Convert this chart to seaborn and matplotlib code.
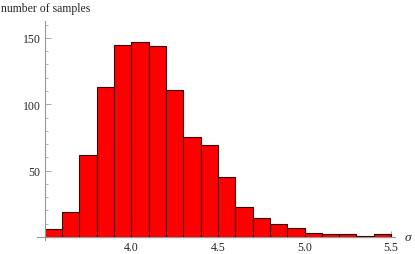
# histogram of sigma samples, Mathematica-like style
import numpy as np
import matplotlib.pyplot as plt
import seaborn as sns
from matplotlib.ticker import MultipleLocator

bin_edges = [3.5, 3.6, 3.7, 3.8, 3.9, 4.0, 4.1, 4.2, 4.3, 4.4, 4.5,
             4.6, 4.7, 4.8, 4.9, 5.0, 5.1, 5.2, 5.3, 5.4, 5.5]
counts = [6, 19, 62, 113, 145, 147, 144, 111, 75, 69,
          45, 23, 14, 10, 7, 3, 2, 2, 1, 2]
x_ticks = [4.0, 4.5, 5.0, 5.5]
y_ticks = [50, 100, 150]

centers = [(a + b) / 2 for a, b in zip(bin_edges[:-1], bin_edges[1:])]

sns.set_style("white")
plt.rcParams['font.family'] = ['Liberation Serif', 'DejaVu Serif']

fig = plt.figure(figsize=(4.15, 2.55), dpi=100)
ax = fig.add_axes([0.090, 0.053, 0.862, 0.861])

sns.histplot(x=centers, weights=counts, bins=bin_edges, ax=ax,
             color='#ff0000', alpha=1.0, edgecolor='#3a0000', linewidth=0.8)

ax.set_xlim(3.457, 5.523)
ax.set_ylim(-2.6, 162.8)

for s in ['top', 'right']:
    ax.spines[s].set_visible(False)
ax.spines['left'].set_position(('data', 3.5))
ax.spines['bottom'].set_position(('data', 0))
for s in ['left', 'bottom']:
    ax.spines[s].set_color('#999999')
    ax.spines[s].set_linewidth(0.8)

ax.set_xticks(x_ticks)
ax.set_xticklabels(['%.1f' % v for v in x_ticks])
ax.set_yticks(y_ticks)
ax.xaxis.set_minor_locator(MultipleLocator(0.1))
ax.yaxis.set_minor_locator(MultipleLocator(10))
ax.tick_params(axis='both', which='major', direction='in', length=4,
               width=0.6, color='#999999', labelsize=8.5, pad=3)
ax.tick_params(axis='both', which='minor', direction='in', length=2,
               width=0.5, color='#999999')
ax.tick_params(axis='x', which='both', bottom=True)
ax.tick_params(axis='y', which='both', left=True)

ax.set_xlabel('')
ax.set_ylabel('')
fig.text(0.002, 0.965, 'number of samples', fontsize=8.5, va='center', ha='left')
fig.text(0.983, 0.068, 'σ', fontsize=9.5, fontstyle='italic',
         va='center', ha='center')

plt.savefig('out.png', dpi=100)
